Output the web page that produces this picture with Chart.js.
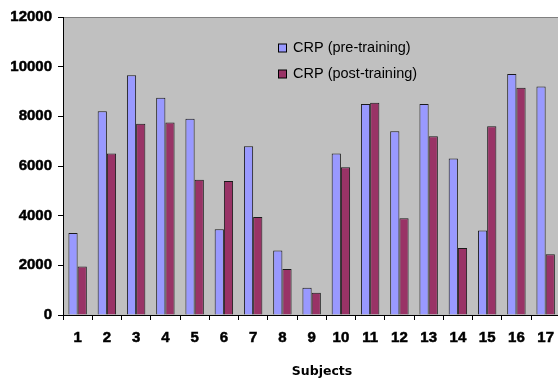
<!DOCTYPE html>
<html>
<head>
<meta charset="utf-8">
<script src="https://cdn.jsdelivr.net/npm/chart.js@4.4.1/dist/chart.umd.min.js"></script>
<style>
  html, body { margin: 0; padding: 0; background: #fff; overflow: hidden; }
  #wrap { position: absolute; left: 0; top: 0; width: 563px; height: 381px; }
</style>
</head>
<body>
<div id="wrap"><canvas id="crpChart"></canvas></div>
<script>
// --- datos ---
const subjects = ['1','2','3','4','5','6','7','8','9','10','11','12','13','14','15','16','17'];
const crpPre  = [3300, 8200, 9650, 8750, 7900, 3450, 6800, 2600, 1100, 6500, 8500, 7400, 8500, 6300, 3400, 9700, 9200];
const crpPost = [1950, 6500, 7700, 7750, 5450, 5400, 3950, 1850, 900, 5950, 8550, 3900, 7200, 2700, 7600, 9150, 2450];
const seriesNames = ['CRP (pre-training)', 'CRP (post-training)'];
const xTitle = 'Subjects';

// fondo gris del área de trazado
const plotBg = {
    id: 'plotBg',
    beforeDraw(chart) {
        const { ctx, chartArea: a } = chart;
        ctx.save();
        ctx.fillStyle = '#C0C0C0';
        ctx.fillRect(a.left, a.top, a.right - a.left, a.bottom - a.top);
        ctx.strokeStyle = '#808080';
        ctx.lineWidth = 1;
        ctx.beginPath();
        ctx.moveTo(a.left, a.top + 0.5);
        ctx.lineTo(a.right, a.top + 0.5);
        ctx.stroke();
        ctx.restore();
    }
};

// leyenda dentro del área + título del eje x
const innerLegend = {
    id: 'innerLegend',
    afterDraw(chart) {
        const { ctx } = chart;
        ctx.save();
        ctx.font = '14.5px "Liberation Sans", Arial, sans-serif';
        ctx.textBaseline = 'middle';
        chart.data.datasets.forEach((ds, i) => {
            const y = 48 + i * 26;
            ctx.fillStyle = ds.backgroundColor;
            ctx.fillRect(278.5, y - 4, 8, 8);
            ctx.strokeStyle = '#000';
            ctx.lineWidth = 1;
            ctx.strokeRect(278.5, y - 4, 8, 8);
            ctx.fillStyle = '#000';
            ctx.fillText(ds.label, 293, y);
        });
        ctx.font = 'bold 12.5px "DejaVu Sans", Verdana, sans-serif';
        ctx.textAlign = 'center';
        ctx.fillText(xTitle, 322, 372);
        ctx.restore();
    }
};

const ctx = document.getElementById('crpChart').getContext('2d');
const chart = new Chart(ctx, {
    type: 'bar',
    data: {
        labels: subjects,
        datasets: [{
            label: seriesNames[0],
            data: crpPre,
            backgroundColor: '#9999FF',
            borderColor: '#1a1a1a',
            borderWidth: 1,
            categoryPercentage: 0.63,
            barPercentage: 1
        }, {
            label: seriesNames[1],
            data: crpPost,
            backgroundColor: '#993366',
            borderColor: '#1a1a1a',
            borderWidth: 1,
            categoryPercentage: 0.63,
            barPercentage: 1
        }]
    },
    options: {
        responsive: true,
        maintainAspectRatio: false,
        animation: false,
        layout: { padding: { top: 17, left: 0, right: 0, bottom: 0 } },
        plugins: {
            legend: { display: false },
            tooltip: { enabled: false }
        },
        scales: {
            x: {
                grid: { drawOnChartArea: false, drawTicks: true, tickLength: 5, color: '#000' },
                border: { color: '#000', width: 1 },
                ticks: {
                    color: '#000',
                    padding: 9,
                    textStrokeColor: '#000',
                    textStrokeWidth: 0.5,
                    font: { family: 'Liberation Sans', size: 15, weight: 'bold' }
                },
                afterFit(scale) { scale.height = 66; }
            },
            y: {
                min: 0,
                max: 12000,
                grid: { drawOnChartArea: false, drawTicks: true, tickLength: 5, color: '#000' },
                border: { color: '#000', width: 1 },
                ticks: {
                    stepSize: 2000,
                    color: '#000',
                    padding: 6,
                    textStrokeColor: '#000',
                    textStrokeWidth: 0.5,
                    font: { family: 'Liberation Sans', size: 15, weight: 'bold' },
                    callback: v => String(v)
                },
                afterFit(scale) { scale.width = 63; }
            }
        }
    },
    plugins: [plotBg, innerLegend]
});
</script>
</body>
</html>
